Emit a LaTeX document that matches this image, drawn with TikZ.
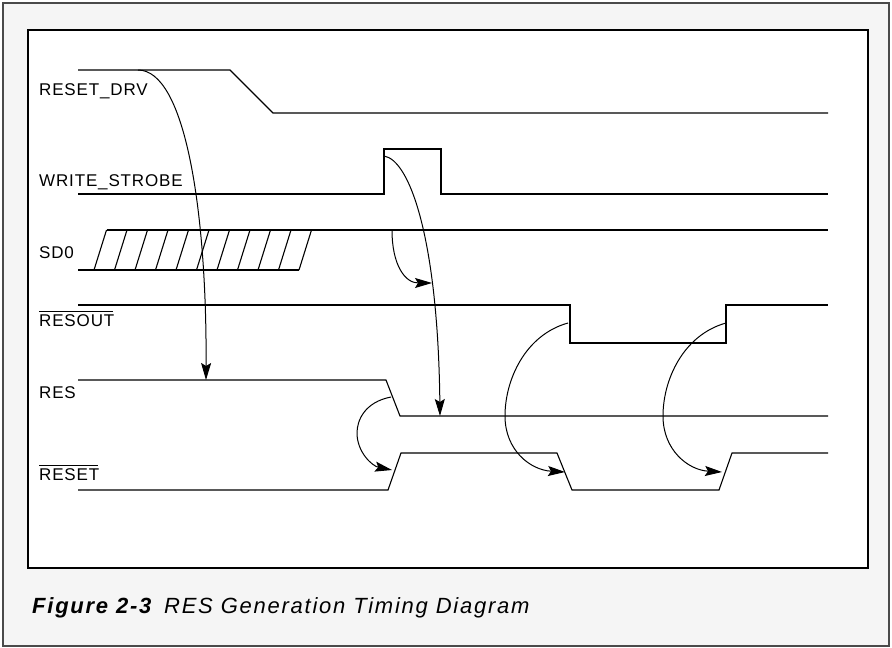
\documentclass[tikz,border=0pt]{standalone}
\usepackage{fontspec}
\setmainfont{Liberation Sans}
\newfontfamily\sigfont[LetterSpace=5]{Liberation Sans}
\newfontfamily\capfont[LetterSpace=8]{Liberation Sans}
\usetikzlibrary{arrows.meta}
\definecolor{framegray}{HTML}{4A4A4A}
\definecolor{bggray}{HTML}{F5F5F5}
\begin{document}
\begin{tikzpicture}[x=1pt, y=-1pt, line join=miter,
		wave/.style={line width=1.1pt},
		cause/.style={line width=1pt, -{Stealth[length=17pt,width=10pt,inset=3pt]}},
		lbl/.style={anchor=base west, inner sep=0pt, font=\sigfont\fontsize{17}{20}\selectfont},
		bar/.style={line width=0.8pt, shorten >=1pt}]
		\useasboundingbox (0,0) rectangle (892,648);
		%frame
		\draw[line width=2.2pt, draw=framegray, fill=bggray] (3,3) rectangle (889,646);
		\draw[line width=1.2pt, fill=white] (28,30) rectangle (868,568);
		
		%signal names
		\node (drvname) [lbl] at (39,95) {RESET\_DRV};
		\node (wsname) [lbl] at (39,186) {WRITE\_STROBE};
		\node (sdname) [lbl] at (39,258) {SD0};
		\node (outname) [lbl] at (39,326) {RESOUT};
		\node (resname) [lbl] at (39,398) {RES};
		\node (rstname) [lbl] at (39,480) {RESET};
		%active low bars
		\draw[bar] ([yshift=3pt]outname.north west) -- ([yshift=3pt]outname.north east);
		\draw[bar] ([yshift=3pt]rstname.north west) -- ([yshift=3pt]rstname.north east);
		
		%waveforms
		\draw[wave] (78,70) -- (230,70) -- (273,113) -- (828,113);
		\draw[wave] (78,194) -- (384,194) -- (384,149) -- (441,149) -- (441,194) -- (828,194);
		\draw[wave] (78,270) -- (299,270);
		\draw[wave] (106.5,230) -- (828,230);
		\foreach \x in {0,1,...,10}{
			\draw[wave] (94+20.5*\x,270) -- ++(12.5,-40);
		}
		\draw[wave] (78,305) -- (570,305) -- (570,343) -- (726,343) -- (726,305) -- (828,305);
		\draw[wave] (78,380) -- (386,380) -- (400,416) -- (828,416);
		\draw[wave] (78,490) -- (388,490) -- (401,453) -- (557,453) -- (572,490)
			-- (719,490) -- (732,453) -- (828,453);
		
		%cause and effect
		\coordinate (drvfall) at (138,70);
		\coordinate (resset) at (206,380);
		\coordinate (wsrise) at (384,156);
		\coordinate (resclr) at (440,416);
		\coordinate (sdlatch) at (392,230);
		\coordinate (sdvalid) at (432,283);
		\coordinate (resfall) at (391,397);
		\coordinate (rstrise) at (392,470);
		\coordinate (outfall) at (568,323);
		\coordinate (rstfall) at (565,472);
		\coordinate (outrise) at (726,323);
		\coordinate (rstrise2) at (722,472);
		
		\draw[cause] (drvfall) .. controls (185,70) and (207,210) .. (resset);
		\draw[cause] (wsrise) .. controls (410,160) and (438,240) .. (resclr);
		\draw[cause] (sdlatch) .. controls (392,265) and (405,283) .. (sdvalid);
		\draw[cause] (resfall) .. controls (365,402) and (357,420) .. (357,433)
			.. controls (357,452) and (372,466) .. (rstrise);
		\draw[cause] (outfall) .. controls (525,335) and (505,380) .. (505,416)
			.. controls (505,450) and (530,470) .. (rstfall);
		\draw[cause] (outrise) .. controls (683,335) and (663,380) .. (663,416)
			.. controls (663,450) and (688,470) .. (rstrise2);
		
		%caption
		\node (caption) [anchor=base west, inner sep=0pt, font=\capfont\fontsize{22}{26}\selectfont]
			at (32,613) {\textbf{\textit{Figure 2-3}}\hspace{0.5em}\textit{RES Generation Timing Diagram}};
		\end{tikzpicture}
\end{document}
